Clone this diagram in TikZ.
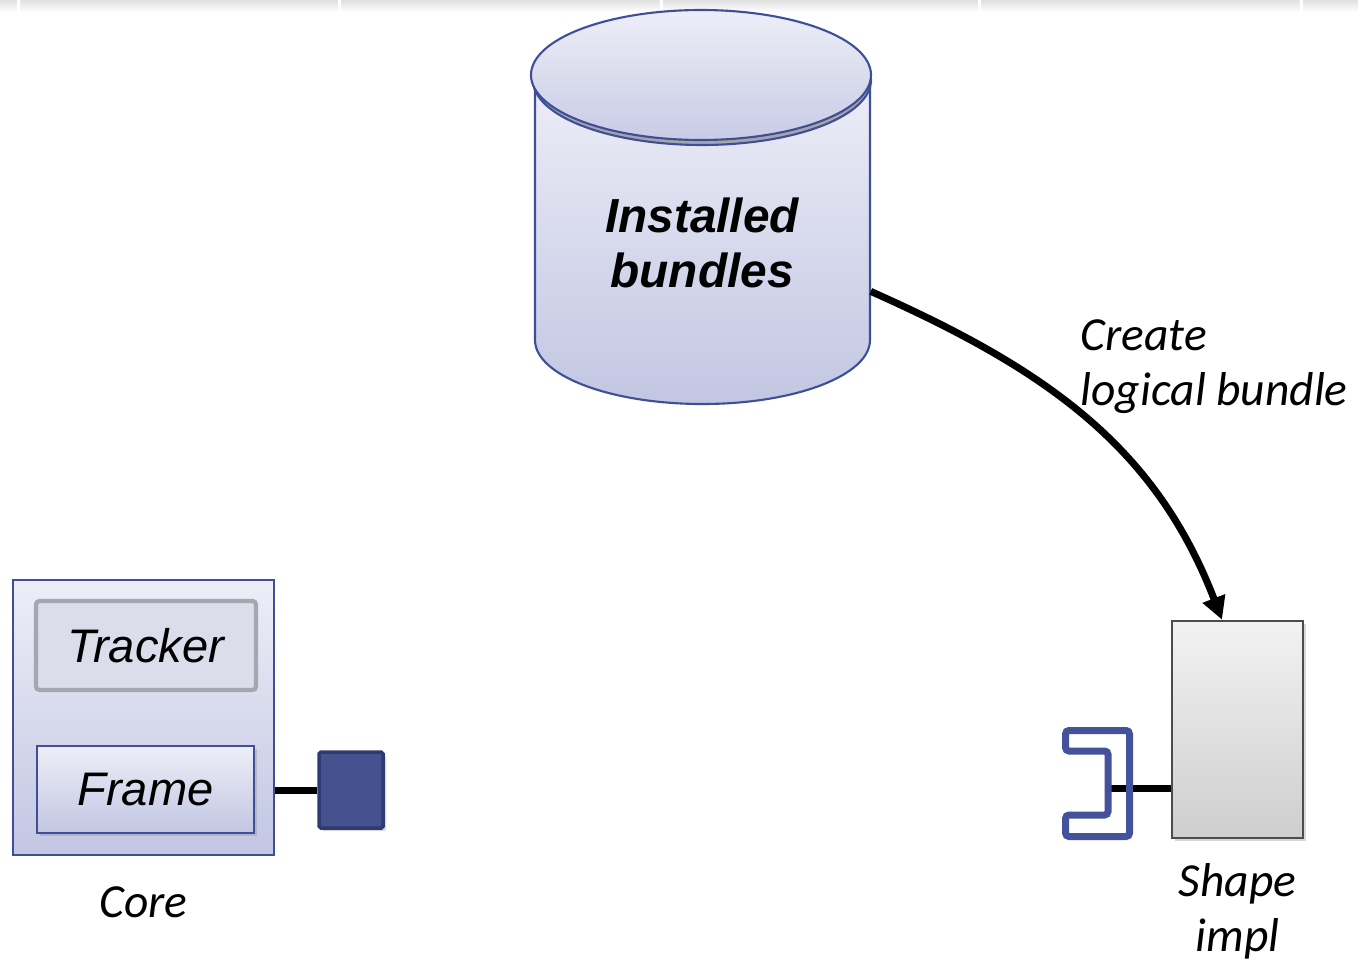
\documentclass[tikz,border=0pt]{standalone}
\usepackage{fontspec}
\setmainfont{Carlito}
\newfontfamily\arialfont{Liberation Sans}
\usepackage{tikz}
\usetikzlibrary{arrows.meta,positioning,shadows,calc}
\definecolor{edge}{RGB}{63,78,152}
\definecolor{lavtop}{RGB}{237,238,248}
\definecolor{lavbot}{RGB}{194,198,226}
\definecolor{trkfill}{RGB}{220,221,234}
\definecolor{trkedge}{RGB}{166,166,174}
\definecolor{portbl}{RGB}{68,82,143}
\definecolor{portedge}{RGB}{46,58,112}
\definecolor{sockbl}{RGB}{68,82,155}
\definecolor{impltop}{RGB}{242,242,242}
\definecolor{implbot}{RGB}{206,206,206}
\tikzset{
  lbl/.style={font=\fontsize{13.5}{15.6}\selectfont\itshape,align=center,inner sep=0pt},
  arl/.style={font=\arialfont\fontsize{13.4}{15.6}\selectfont\itshape,align=center},
  corebox/.style={draw=edge,line width=0.6pt,top color=lavtop,bottom color=lavbot,inner sep=0pt},
  trk/.style={arl,draw=trkedge,line width=1.2pt,fill=trkfill,rounded corners=1pt},
  frm/.style={arl,draw=edge,line width=0.6pt,top color=lavtop,bottom color=lavbot,drop shadow={opacity=0.3,shadow xshift=0.03cm,shadow yshift=-0.03cm}},
  port/.style={draw=portedge,line width=1pt,fill=portbl,rounded corners=0.5pt,drop shadow={opacity=0.3,shadow xshift=0.03cm,shadow yshift=-0.03cm}},
  implbox/.style={draw=black!70,line width=0.7pt,top color=impltop,bottom color=implbot,drop shadow={opacity=0.3,shadow xshift=0.03cm,shadow yshift=-0.03cm}},
  wire/.style={line width=2pt,black},
  sockline/.style={draw=sockbl,line width=2pt,rounded corners=1pt},
  arr/.style={-{Triangle[length=6.5pt,width=6.5pt]},line width=2pt}
}
\begin{document}
\begin{tikzpicture}
\useasboundingbox (0,0) rectangle (13.58,9.60);
% strip at the top
\shade[top color=black!12,bottom color=white] (0,9.48) rectangle (13.58,9.60);
\foreach \x in {0.17,3.38,6.60,9.78,13.00} \fill[white] (\x,9.46) rectangle ++(0.03,0.14);
% cylinder
\shade[top color=lavtop,bottom color=lavbot,draw=edge,line width=0.6pt] (5.35,8.85) -- (5.35,6.20) arc[start angle=180,end angle=360,x radius=1.675,y radius=0.64] -- (8.70,8.85) -- cycle;
\draw[edge,fill=black!35,line width=0.6pt] (7.02,8.80) ellipse[x radius=1.69,y radius=0.65];
\shade[top color=lavtop,bottom color=lavbot!90,draw=edge,line width=0.6pt] (7.01,8.85) ellipse[x radius=1.70,y radius=0.65];
\node[arl,font=\arialfont\fontsize{13.6}{15.6}\selectfont\bfseries\itshape,minimum width=3.36cm,minimum height=2cm] (db) at (7.02,7.17) {Installed\\bundles};
% core
\node[corebox,minimum width=2.61cm,minimum height=2.75cm] (core) at (1.435,2.425) {};
\node[trk,minimum width=2.2cm,minimum height=0.89cm] (tracker) at (1.46,3.145) {Tracker};
\node[frm,minimum width=2.17cm,minimum height=0.87cm] (frame) at (1.455,1.705) {Frame};
\node[port,minimum width=0.64cm,minimum height=0.76cm] (port) at (3.51,1.70) {};
\draw[wire] (port.west) -- (port.west -| core.east);
\node[lbl,below=3mm of core] (corelbl) {Core};
% shape impl
\node[implbox,minimum width=1.31cm,minimum height=2.17cm] (impl) at (12.375,2.305) {};
\coordinate (sock) at (11.08,1.72);
\draw[wire] (sock) -- (sock -| impl.west);
\draw[sockline] (10.655,2.295) -- (11.295,2.295) -- (11.295,1.235) -- (10.655,1.235) -- (10.655,1.45) -- (11.08,1.45) -- (11.08,2.09) -- (10.655,2.09) -- cycle;
\node[lbl,below=2.4mm of impl] (impllbl) {Shape\\impl};
% arrow
\draw[arr] (db.-16) to[out=-24,in=111] ([xshift=-0.155cm]impl.north);
\node[lbl,align=left,anchor=west] (arrlbl) at (10.80,5.93) {Create\\logical bundle};
\end{tikzpicture}
\end{document}
